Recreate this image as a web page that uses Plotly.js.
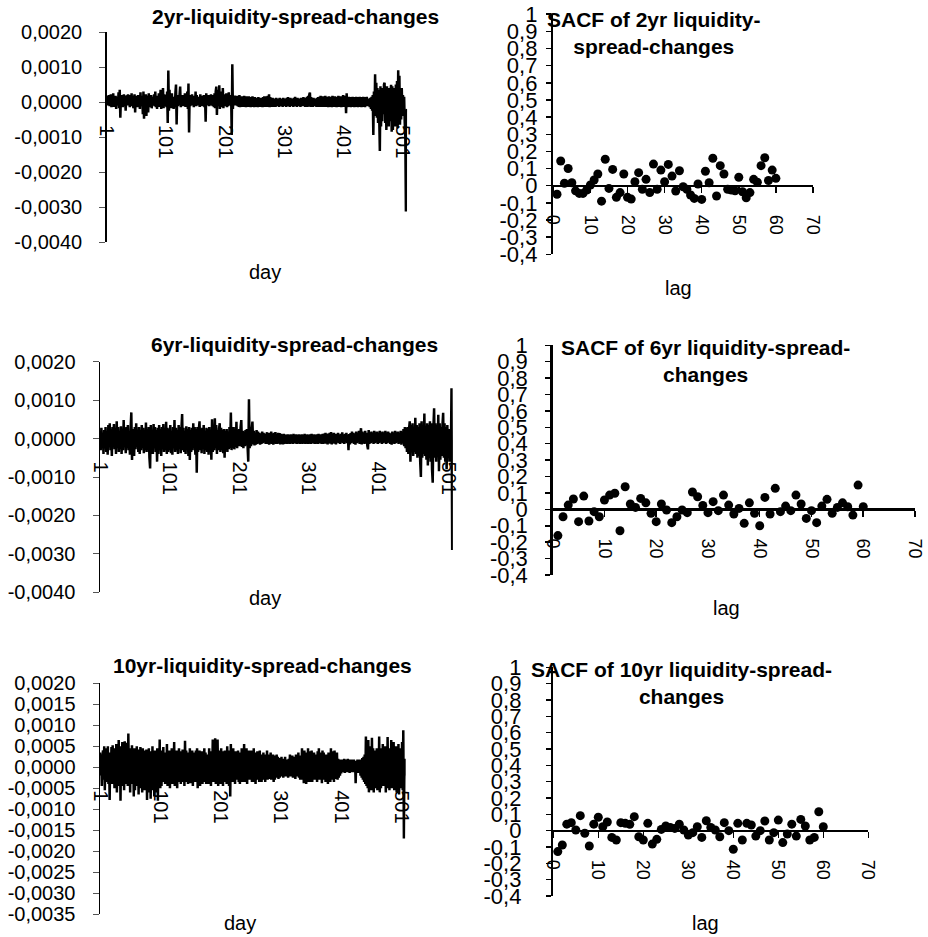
<!DOCTYPE html>
<html>
<head>
<meta charset="utf-8">
<script src="https://cdn.plot.ly/plotly-3.0.1.min.js"></script>
<style>html,body{margin:0;padding:0;background:#fff;}#chart{width:928px;height:937px;}</style>
</head>
<body>
<div id="chart"></div>
<script>
// ---------- DATA ----------
const spread2yr = [
.00015,-.00010,.00018,-.00005,.00020,-.00012,.00008,.00022,-.00015,.00010,-.00008,.00025,-.00014,.00012,-.00006,.00018,-.00020,.00005,.00015,-.00010,
.00028,-.00018,.00035,-.00045,.00012,-.00008,.00020,-.00015,.00010,.00022,-.00012,.00008,-.00025,.00015,.00018,-.00010,.00022,-.00008,.00012,-.00015,
.00020,-.00012,.00025,-.00010,.00015,-.00018,.00010,.00022,-.00030,.00018,-.00008,.00012,-.00015,.00020,-.00010,.00014,-.00020,.00028,-.00012,.00010,
.00018,-.00035,.00030,-.00048,.00015,-.00020,.00022,-.00040,.00012,.00018,-.00030,.00025,-.00015,.00010,-.00012,.00020,-.00018,.00008,.00015,-.00010,
.00022,-.00012,.00030,-.00015,.00012,-.00020,.00018,-.00008,.00025,-.00014,.00010,.00035,-.00020,.00015,-.00010,.00040,-.00018,.00022,-.00012,.00015,
.00020,-.00015,.00030,-.00060,.00090,-.00025,.00035,-.00012,.00020,-.00018,.00025,-.00010,.00015,-.00020,.00012,-.00015,.00028,.00050,-.00064,.00020,
-.00012,.00018,-.00010,.00022,.00044,-.00015,.00012,-.00008,.00020,-.00012,.00015,-.00010,.00025,-.00014,.00018,-.00008,.00030,-.00020,.00053,-.00087,
.00020,-.00012,.00015,-.00010,.00022,-.00008,.00012,-.00015,.00018,-.00010,.00030,-.00012,.00020,-.00008,.00015,-.00010,.00012,-.00014,.00022,-.00008,
.00015,-.00012,.00018,-.00010,.00020,-.00015,.00012,-.00056,.00025,-.00010,.00015,-.00008,.00020,-.00012,.00018,-.00010,.00022,-.00008,.00015,-.00012,
.00020,-.00015,.00025,-.00018,.00030,.00044,-.00037,.00020,.00035,-.00012,.00048,-.00020,.00025,-.00015,.00030,-.00010,.00040,-.00018,.00022,-.00012,
.00018,-.00010,.00025,-.00015,.00020,-.00012,.00028,-.00010,.00015,-.00008,.00020,-.00094,.00108,-.00020,.00015,-.00010,.00018,-.00008,.00012,-.00010,
.00018,-.00012,.00015,-.00014,.00020,-.00015,.00014,-.00012,.00016,-.00014,.00015,-.00012,.00018,-.00014,.00014,-.00015,.00016,-.00012,.00014,-.00014,
.00016,-.00014,.00012,-.00015,.00014,-.00012,.00016,-.00014,.00012,-.00015,.00014,-.00012,.00012,-.00014,.00012,-.00015,.00014,-.00012,.00012,-.00014,
.00012,-.00014,.00012,-.00015,.00014,-.00012,.00016,-.00014,.00012,-.00014,.00016,-.00012,.00018,-.00014,.00022,-.00015,.00014,-.00012,.00012,-.00014,
.00012,-.00014,.00010,-.00012,.00010,-.00014,.00012,-.00010,.00010,-.00012,.00010,-.00014,.00012,-.00010,.00010,-.00012,.00010,-.00014,.00012,-.00010,
.00010,-.00012,.00010,-.00014,.00012,-.00010,.00014,-.00012,.00010,-.00014,.00012,-.00010,.00010,-.00012,.00010,-.00014,.00012,-.00010,.00015,-.00012,
.00010,-.00014,.00012,-.00010,.00010,-.00012,.00010,-.00014,.00012,-.00010,.00010,-.00012,.00014,-.00010,.00012,-.00014,.00010,-.00012,.00015,-.00014,
.00018,-.00012,.00022,.00027,-.00014,.00014,-.00012,.00010,-.00014,.00012,-.00010,.00010,-.00012,.00010,-.00014,.00012,-.00014,.00014,-.00012,.00015,
-.00014,.00018,-.00012,.00015,-.00014,.00016,-.00014,.00014,-.00012,.00018,-.00014,.00015,-.00012,.00014,-.00015,.00016,-.00014,.00015,-.00012,.00014,
-.00015,.00018,-.00014,.00015,-.00012,.00016,-.00014,.00015,-.00015,.00014,-.00012,.00018,-.00014,.00015,-.00012,.00016,-.00015,.00014,-.00012,.00020,
-.00014,.00015,-.00012,.00018,-.00032,.00025,-.00015,.00014,-.00012,.00015,-.00014,.00012,-.00015,.00014,-.00012,.00015,-.00014,.00012,-.00015,.00014,
-.00012,.00015,-.00014,.00012,-.00015,.00014,-.00012,.00015,-.00014,.00012,-.00015,.00014,-.00012,.00015,-.00014,.00012,-.00015,.00014,-.00012,.00015,
-.00010,.00008,-.00012,.00010,-.00015,.00012,-.00020,.00015,-.00025,.00020,-.00094,.00030,-.00040,.00079,-.00030,.00055,-.00045,.00040,-.00060,.00035,
-.00050,-.00140,.00045,-.00070,.00030,-.00055,.00040,-.00035,.00050,.00055,-.00060,.00030,-.00080,.00045,-.00050,.00035,-.00070,.00040,-.00055,.00030,
.00049,-.00085,.00045,-.00080,.00040,-.00060,.00035,-.00070,.00050,-.00045,.00060,-.00075,.00091,-.00040,.00075,-.00065,.00030,-.00050,.00040,-.00030,
.00020,-.00040,.00015,-.00060,-.00100,-.00313,-.00030,-.00020
];
const spread6yr = [
.00020,-.00030,.00028,-.00025,.00015,-.00040,.00022,-.00020,.00030,-.00035,.00018,-.00042,.00035,-.00020,.00040,-.00030,.00025,-.00045,.00030,-.00015,
.00038,-.00028,.00020,-.00040,.00045,-.00022,.00030,-.00035,.00018,-.00025,.00032,-.00040,.00025,-.00030,.00048,-.00020,.00022,-.00038,.00030,-.00025,
.00035,-.00030,.00020,-.00042,.00028,.00068,-.00056,.00025,-.00035,-.00045,.00030,-.00028,.00040,-.00022,.00018,-.00035,.00030,-.00040,.00022,-.00030,
.00035,-.00025,.00028,-.00038,.00020,-.00030,.00042,-.00035,.00025,-.00028,.00030,-.00050,-.00078,.00035,-.00030,.00020,-.00040,.00038,-.00025,.00030,
-.00035,.00022,-.00060,.00028,-.00040,.00035,-.00030,.00025,-.00045,.00030,-.00028,.00038,-.00035,.00022,-.00030,.00044,-.00040,.00028,-.00035,.00025,
-.00030,.00035,-.00038,.00020,-.00042,.00030,-.00025,.00048,-.00035,.00028,-.00030,.00022,-.00040,.00035,-.00025,.00030,-.00038,.00025,.00064,-.00030,
.00028,-.00035,.00020,-.00040,.00032,-.00028,.00025,-.00045,.00030,-.00056,.00022,-.00035,.00028,-.00030,.00040,-.00025,.00030,-.00042,.00025,-.00089,
.00030,-.00035,.00025,.00045,-.00030,.00022,-.00038,.00028,-.00025,.00035,-.00040,.00020,-.00030,.00028,-.00035,.00025,-.00042,.00030,-.00028,.00022,
-.00055,.00050,-.00035,.00028,-.00030,.00053,-.00025,.00035,-.00040,.00022,-.00030,.00025,.00040,-.00035,.00028,-.00030,.00022,-.00038,.00025,-.00050,
.00020,-.00030,.00025,-.00035,.00018,-.00028,.00030,-.00025,.00068,-.00030,.00022,-.00025,.00030,-.00028,.00020,-.00022,.00044,-.00025,.00018,-.00020,
.00025,-.00020,.00030,.00048,-.00022,.00020,-.00025,.00018,-.00020,.00022,-.00018,.00025,-.00020,-.00060,.00102,-.00025,.00030,-.00020,.00025,.00044,
-.00015,.00020,-.00018,.00015,-.00016,.00022,-.00014,.00018,-.00012,.00015,-.00016,.00012,-.00014,.00018,-.00012,.00015,-.00010,.00012,-.00014,.00010,
.00016,-.00014,.00014,-.00016,.00015,-.00013,.00018,-.00014,.00013,-.00016,.00015,-.00013,.00017,-.00014,.00012,-.00014,.00015,-.00012,.00014,-.00015,
.00012,-.00014,.00011,-.00015,.00012,-.00014,.00010,-.00013,.00010,-.00014,.00011,-.00013,.00010,-.00014,.00011,-.00012,.00010,-.00014,.00012,-.00011,
.00010,-.00013,.00011,-.00014,.00010,-.00012,.00011,-.00014,.00010,-.00013,.00011,-.00014,.00010,-.00012,.00012,-.00014,.00010,-.00013,.00011,-.00014,
.00010,-.00013,.00011,-.00014,.00012,-.00011,.00010,-.00013,.00011,-.00014,.00010,-.00013,.00011,-.00014,.00012,-.00011,.00010,-.00013,.00011,-.00014,
.00012,-.00014,.00013,-.00012,.00015,-.00013,.00012,-.00015,.00013,-.00012,.00015,-.00013,.00017,-.00015,.00013,-.00012,.00015,-.00013,.00012,-.00015,
.00012,-.00010,.00015,-.00012,.00010,-.00014,.00012,-.00010,.00016,-.00012,.00010,-.00014,.00012,-.00010,.00015,-.00012,.00010,-.00030,.00012,-.00015,
.00014,-.00012,.00018,-.00010,.00015,-.00014,.00012,-.00016,.00018,-.00012,.00015,-.00010,.00020,-.00014,.00012,.00027,-.00015,.00018,-.00012,.00015,
-.00014,.00020,-.00012,.00015,-.00018,-.00028,.00022,-.00014,.00016,-.00012,.00018,-.00010,.00015,-.00014,.00020,-.00012,.00016,-.00010,.00018,-.00014,
.00015,-.00012,.00020,-.00010,.00016,-.00014,.00018,-.00012,.00015,-.00010,.00020,-.00014,.00016,-.00012,.00018,-.00010,.00015,-.00014,.00012,-.00016,
.00018,-.00012,.00015,-.00014,.00020,-.00012,.00016,-.00010,.00018,-.00014,.00015,-.00012,.00020,-.00016,.00018,-.00012,.00025,-.00020,.00030,-.00025,
.00028,-.00035,.00030,-.00040,.00025,.00045,-.00060,.00035,-.00030,.00040,-.00045,.00030,-.00035,.00054,-.00040,.00035,-.00050,.00030,-.00045,.00040,
-.00060,-.00100,.00045,-.00050,.00035,-.00040,.00065,-.00045,.00030,-.00055,.00040,-.00070,.00035,-.00050,.00045,-.00060,.00040,-.00080,-.00115,.00030,
.00079,-.00050,.00040,-.00060,.00035,-.00045,.00062,-.00085,.00040,-.00055,.00030,-.00045,.00035,.00067,-.00050,.00040,-.00060,.00030,-.00080,.00035,
-.00045,.00025,-.00060,.00020,-.00050,.00131,-.00290,-.00020
];
const spread10yr = [
.00035,-.00020,.00030,-.00045,.00025,.00040,-.00030,.00050,-.00055,.00020,-.00035,.00045,-.00025,.00050,-.00040,.00030,-.00078,.00035,-.00030,.00048,
-.00040,.00052,-.00025,.00030,-.00050,.00045,-.00035,.00055,-.00060,.00030,-.00045,.00065,-.00030,.00050,-.00080,.00035,-.00045,.00060,-.00030,.00045,
-.00055,.00062,-.00040,.00050,-.00035,.00058,-.00045,.00080,-.00030,.00040,-.00060,.00045,-.00035,.00052,-.00040,.00030,-.00070,.00045,-.00055,.00038,
-.00045,.00050,-.00035,.00042,-.00065,.00030,-.00050,.00048,-.00040,.00035,-.00060,.00045,-.00030,.00040,-.00055,.00035,-.00045,.00042,-.00078,.00030,
-.00050,.00045,-.00060,.00038,-.00075,.00035,-.00045,.00050,-.00055,.00025,-.00070,.00040,-.00035,.00030,-.00060,.00045,-.00080,.00035,-.00040,.00066,
-.00050,.00030,-.00045,.00040,-.00035,.00048,-.00030,.00035,-.00040,.00025,-.00035,.00055,-.00045,.00035,-.00030,.00040,-.00050,.00030,-.00035,.00045,
-.00040,.00038,-.00030,.00060,-.00045,.00035,-.00025,.00040,-.00050,.00030,-.00035,.00045,-.00030,.00038,-.00040,.00028,-.00035,.00042,-.00030,.00035,
-.00045,.00063,-.00030,.00040,-.00035,.00028,-.00040,.00035,-.00030,.00045,-.00038,.00030,-.00025,.00040,-.00045,.00035,-.00030,.00028,-.00035,.00040,
-.00030,.00045,-.00050,.00030,-.00035,.00040,-.00045,.00030,-.00025,.00038,-.00040,.00030,-.00035,.00045,-.00030,.00035,-.00040,.00028,-.00035,.00030,
-.00040,.00045,-.00030,.00035,-.00045,.00038,-.00030,.00066,-.00035,.00040,-.00030,.00069,-.00040,.00030,-.00035,.00066,-.00045,.00040,-.00030,.00035,
-.00040,.00045,-.00035,.00030,-.00045,.00038,-.00030,.00040,-.00035,.00030,-.00040,.00050,-.00030,.00035,-.00045,.00040,-.00070,.00055,-.00035,.00040,
-.00030,.00045,-.00035,.00030,-.00040,.00038,-.00030,.00035,-.00025,.00040,-.00035,.00030,-.00040,.00035,-.00030,.00045,-.00035,.00040,-.00030,.00055,
-.00035,.00038,-.00030,.00045,-.00040,.00035,-.00030,.00040,-.00025,.00035,-.00030,.00040,-.00035,.00030,-.00028,.00045,-.00035,.00030,-.00040,.00035,
-.00030,.00038,-.00028,.00030,-.00035,.00040,-.00030,.00025,-.00035,.00030,-.00025,.00035,-.00030,.00028,-.00035,.00030,-.00025,.00040,-.00030,.00025,
-.00028,.00030,-.00025,.00035,-.00030,.00025,-.00028,.00030,-.00035,.00025,-.00030,.00028,-.00025,.00030,-.00022,.00025,-.00028,.00020,-.00025,.00022,
-.00020,.00025,-.00022,.00018,-.00025,.00020,-.00022,.00025,-.00020,.00018,-.00022,.00015,-.00025,.00020,-.00018,.00030,-.00022,.00025,-.00020,.00028,
-.00025,.00020,-.00022,.00025,-.00028,.00030,-.00020,.00025,-.00022,.00035,-.00025,.00020,-.00030,.00028,-.00025,.00045,-.00030,.00035,-.00038,.00040,
-.00030,.00035,-.00040,.00028,-.00035,.00045,-.00030,.00038,-.00035,.00030,-.00028,.00040,-.00035,.00030,-.00025,.00035,-.00030,.00028,-.00025,.00030,
-.00035,.00038,-.00028,.00045,-.00030,.00035,-.00025,.00030,-.00038,.00040,-.00030,.00035,-.00028,.00030,-.00035,.00025,-.00028,.00030,-.00040,.00035,
-.00030,.00028,-.00035,.00045,-.00030,.00038,-.00025,.00030,-.00035,.00040,-.00028,.00030,-.00025,.00035,-.00030,.00020,-.00025,.00018,-.00020,.00015,
-.00015,.00018,-.00012,.00015,-.00010,.00020,-.00014,.00018,-.00012,.00015,-.00010,.00020,-.00012,.00018,-.00014,.00015,-.00010,.00018,-.00012,.00015,
-.00010,.00018,-.00012,.00015,-.00038,.00012,-.00010,.00018,-.00014,.00015,-.00012,.00018,-.00020,.00015,-.00025,.00022,-.00030,.00025,-.00035,.00030,
-.00040,.00073,-.00045,.00035,-.00050,.00065,-.00060,.00040,-.00045,.00050,-.00055,.00070,-.00040,.00045,-.00060,.00035,-.00050,.00040,-.00035,.00045,
-.00055,.00040,-.00045,.00073,-.00060,.00035,-.00050,.00045,-.00040,.00055,-.00045,.00040,-.00035,.00050,-.00060,.00038,-.00045,.00072,-.00050,.00040,
-.00055,.00045,-.00040,.00065,-.00050,.00035,-.00045,.00060,-.00055,.00040,-.00035,.00050,-.00060,.00045,-.00040,.00055,-.00065,.00045,-.00050,.00040,
-.00045,.00060,-.00055,.00088,-.00170,-.00030,.00020,-.00020
];
const sacf2yr = [-0.05,0.144,0.014,0.10,0.017,-0.03,-0.045,-0.045,-0.025,0.004,0.033,0.068,-0.09,0.154,-0.016,0.095,-0.068,-0.04,0.068,-0.068,-0.078,0.023,0.076,-0.021,0.037,-0.04,0.126,-0.021,0.091,0.023,0.124,0.056,-0.031,0.087,-0.006,-0.021,-0.054,-0.074,0.01,-0.08,0.084,0.017,0.16,-0.06,0.117,0.068,-0.021,-0.025,-0.03,0.049,-0.035,-0.07,-0.04,0.037,0.02,0.117,0.163,0.03,0.091,0.043];
const sacf6yr = [-0.16,-0.045,0.026,0.063,-0.075,0.081,-0.071,-0.014,-0.045,0.057,0.087,0.098,-0.13,0.138,0.033,0.012,0.067,0.04,-0.024,-0.075,0.033,-0.004,-0.081,-0.045,-0.004,-0.02,0.106,0.077,0.024,-0.02,0.047,-0.008,0.087,0.026,-0.028,0.006,-0.085,0.04,-0.024,-0.1,0.073,-0.028,0.128,-0.014,0.02,-0.008,0.087,0.033,-0.055,-0.008,-0.081,0.02,0.061,-0.024,0.012,0.04,0.016,-0.035,0.148,0.016];
const sacf10yr = [-0.128,-0.088,0.04,0.049,0.004,0.092,-0.016,-0.094,0.04,0.082,0.024,0.053,-0.041,-0.057,0.049,0.045,0.039,0.086,-0.037,-0.057,0.045,-0.082,-0.053,0.008,0.029,0.02,0.014,0.04,0.004,-0.027,-0.012,0.024,-0.041,0.061,0.02,0.004,-0.037,0.049,0,-0.114,0.045,-0.057,0.045,0.035,-0.033,0,0.059,-0.057,-0.012,0.065,-0.073,-0.02,0.04,-0.033,0.069,0.029,-0.057,-0.041,0.116,0.024];

const dayTicks = [1,101,201,301,401,501];
const dayTickText = ["1","101","201","301","401","501"];
const lagTicks = [0,10,20,30,40,50,60,70];
const lagTickText = ["0","10","20","30","40","50","60","70"];
const tsTicks = [0.002,0.001,0,-0.001,-0.002,-0.003,-0.004];
const tsTickText = ["0,0020","0,0010","0,0000","-0,0010","-0,0020","-0,0030","-0,0040"];
const ts10Ticks = [0.002,0.0015,0.001,0.0005,0,-0.0005,-0.001,-0.0015,-0.002,-0.0025,-0.003,-0.0035];
const ts10TickText = ["0,0020","0,0015","0,0010","0,0005","0,0000","-0,0005","-0,0010","-0,0015","-0,0020","-0,0025","-0,0030","-0,0035"];
const acfTicks = [1,0.9,0.8,0.7,0.6,0.5,0.4,0.3,0.2,0.1,0,-0.1,-0.2,-0.3,-0.4];
const acfTickText = ["1","0,9","0,8","0,7","0,6","0,5","0,4","0,3","0,2","0,1","0","-0,1","-0,2","-0,3","-0,4"];

const titles = {
  ts2: "2yr-liquidity-spread-changes",
  ts6: "6yr-liquidity-spread-changes",
  ts10: "10yr-liquidity-spread-changes",
  acf2: "SACF of 2yr liquidity-<br>spread-changes",
  acf6: "SACF of 6yr liquidity-spread-<br>changes",
  acf10: "SACF of 10yr liquidity-spread-<br>changes"
};

// ---------- LAYOUT HELPERS ----------
const W = 928, H = 937;
const FONT = "Liberation Sans, Arial, sans-serif";
const fx = p => p / W;
const fy = p => 1 - p / H;
const idx = arr => arr.map((_, i) => i + 1);

function lineTrace(vals, xa, ya) {
  return {x: idx(vals), y: vals, type: 'scatter', mode: 'lines', xaxis: xa, yaxis: ya,
    line: {color: '#000', width: 2.5, simplify: false}, hoverinfo: 'skip'};
}
function dotTrace(vals, xa, ya) {
  return {x: idx(vals), y: vals, type: 'scatter', mode: 'markers', xaxis: xa, yaxis: ya,
    marker: {color: '#000', size: 9}, cliponaxis: false, hoverinfo: 'skip'};
}

function tsX(left, right, zeroPx, standoff) {
  return {domain: [fx(left), fx(right)], range: [1, 508], anchor: 'free', position: fy(zeroPx),
    showline: false, ticks: '', showgrid: false, zeroline: false,
    tickvals: dayTicks, ticktext: dayTickText, tickangle: 90, ticklabelstandoff: standoff,
    tickfont: {family: FONT, size: 20, color: '#000'}, fixedrange: true};
}
function tsY(top, bottom, range, tv, tt, xa, standoff) {
  return {domain: [fy(bottom), fy(top)], range: range, anchor: xa,
    showline: true, linecolor: '#000', linewidth: 1.5, ticks: 'outside', ticklen: 6, tickwidth: 1, tickcolor: '#555',
    showgrid: false, zeroline: false, tickvals: tv, ticktext: tt, ticklabelstandoff: standoff,
    tickfont: {family: FONT, size: 20, color: '#000'}, fixedrange: true};
}
function acfX(left, right, zeroPx, standoff) {
  return {domain: [fx(left), fx(right)], range: [0, 70], anchor: 'free', position: fy(zeroPx),
    showline: true, linecolor: '#000', linewidth: 2.5, ticks: 'outside', ticklen: 6, tickwidth: 1.5, tickcolor: '#000',
    showgrid: false, zeroline: false, tickvals: lagTicks, ticktext: lagTickText, tickangle: 90,
    ticklabelstandoff: standoff, tickfont: {family: FONT, size: 18, color: '#000'}, fixedrange: true};
}
function acfY(top, bottom, xa, standoff) {
  return {domain: [fy(bottom), fy(top)], range: [-0.4, 1], anchor: xa,
    showline: true, linecolor: '#000', linewidth: 2.5, ticks: 'outside', ticklen: 5, tickwidth: 1.5, tickcolor: '#000',
    showgrid: false, zeroline: false, tickvals: acfTicks, ticktext: acfTickText, ticklabelstandoff: standoff,
    tickfont: {family: FONT, size: 22, color: '#000'}, fixedrange: true};
}
function ann(text, xpx, ypx, bold, size) {
  return {text: bold ? '<b>' + text + '</b>' : text, xref: 'paper', yref: 'paper', x: fx(xpx), y: fy(ypx),
    xanchor: 'center', yanchor: 'middle', showarrow: false,
    font: {family: FONT, size: size, color: '#000'}};
}

const data = [
  lineTrace(spread2yr, 'x', 'y'),
  dotTrace(sacf2yr, 'x2', 'y2'),
  lineTrace(spread6yr, 'x3', 'y3'),
  dotTrace(sacf6yr, 'x4', 'y4'),
  lineTrace(spread10yr, 'x5', 'y5'),
  dotTrace(sacf10yr, 'x6', 'y6')
];

const layout = {
  width: W, height: H, margin: {l: 0, r: 0, t: 0, b: 0},
  paper_bgcolor: '#fff', plot_bgcolor: 'rgba(0,0,0,0)', showlegend: false,
  font: {family: FONT, color: '#000'},
  xaxis:  tsX(106.7, 407.1, 102, 22),
  yaxis:  tsY(32, 242, [-0.004, 0.002], tsTicks, tsTickText, 'x', 13),
  xaxis2: acfX(553.3, 813, 185.7, 18),
  yaxis2: acfY(14.2, 254.3, 'x2', 4),
  xaxis3: tsX(100, 452.9, 438.6, 22),
  yaxis3: tsY(361.7, 592.3, [-0.004, 0.002], tsTicks, tsTickText, 'x3', 13),
  xaxis4: acfX(552.7, 915, 509.3, 18),
  yaxis4: acfY(345.3, 575, 'x4', 13),
  xaxis5: tsX(100, 405.7, 767.2, 22),
  yaxis5: tsY(683.3, 914, [-0.0035, 0.002], ts10Ticks, ts10TickText, 'x5', 13),
  xaxis6: acfX(553.3, 868.3, 830.7, 18),
  yaxis6: acfY(667.4, 896, 'x6', 20),
  annotations: [
    ann(titles.ts2, 295, 16.5, true, 21),
    ann(titles.acf2, 654, 33.5, true, 21),
    ann(titles.ts6, 294.5, 345, true, 21),
    ann(titles.acf6, 705, 360.8, true, 21),
    ann(titles.ts10, 262, 665, true, 21),
    ann(titles.acf10, 681.7, 683.4, true, 21),
    ann('day', 265, 272, false, 20),
    ann('lag', 678, 288, false, 20),
    ann('day', 265, 598, false, 20),
    ann('lag', 726.7, 608, false, 20),
    ann('day', 240, 923, false, 20),
    ann('lag', 705, 923.3, false, 20)
  ]
};

Plotly.newPlot('chart', data, layout, {staticPlot: true, displayModeBar: false});
</script>
</body>
</html>
